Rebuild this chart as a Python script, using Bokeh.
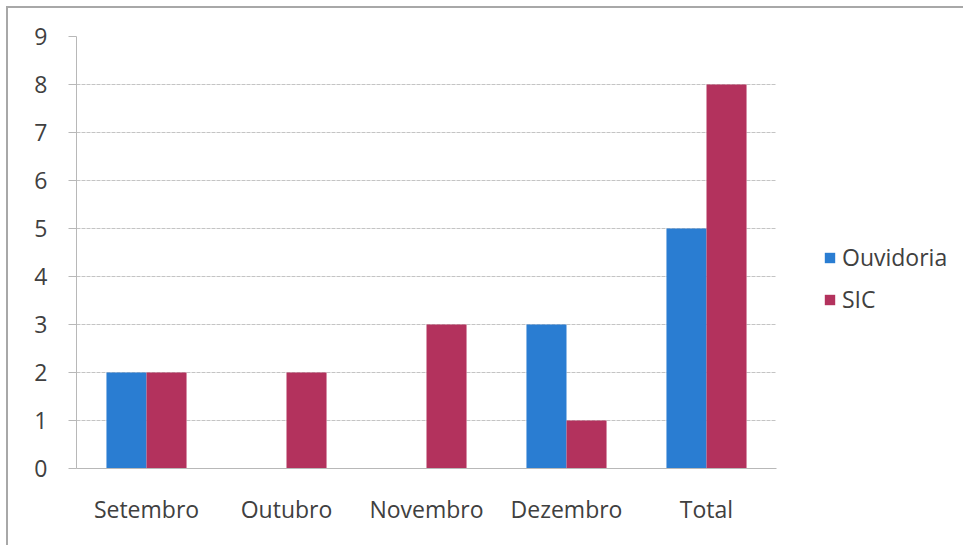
from bokeh.plotting import figure
from bokeh.models import ColumnDataSource, FactorRange, FixedTicker, Legend, LegendItem
from bokeh.transform import dodge
from bokeh.embed import file_html
from bokeh.resources import INLINE

categories = ["Setembro", "Outubro", "Novembro", "Dezembro", "Total"]
ouvidoria = [2, 0, 0, 3, 5]
sic = [2, 2, 3, 1, 8]
y_ticks = [0, 1, 2, 3, 4, 5, 6, 7, 8, 9]

BLUE = "#2a7dd2"
RED = "#b3325d"
FONT = "Open Sans"

src = ColumnDataSource(dict(cat=categories, ouv=ouvidoria, sic=sic))

p = figure(x_range=FactorRange(*categories), y_range=(0, 9),
           frame_width=700, frame_height=432, output_backend="svg", toolbar_location=None,
           min_border_left=68, min_border_top=28, min_border_bottom=77, min_border_right=185)
p.styles = {"border-left": "2px solid #a8a8a8", "border-top": "2px solid #a8a8a8",
            "margin-left": "6px", "margin-top": "6px"}
p.outline_line_color = None

r1 = p.vbar(x=dodge("cat", -0.143, range=p.x_range), top="ouv", width=0.286, source=src,
            fill_color=BLUE, line_color=None)
r2 = p.vbar(x=dodge("cat", 0.143, range=p.x_range), top="sic", width=0.286, source=src,
            fill_color=RED, line_color=None)

p.yaxis.ticker = FixedTicker(ticks=y_ticks)
p.yaxis.minor_tick_line_color = None
p.yaxis.major_tick_out = 8
p.yaxis.major_tick_in = 0
p.yaxis.major_tick_line_color = "#b8b8b8"
p.yaxis.axis_line_color = "#b8b8b8"
p.yaxis.major_label_standoff = 21

p.xaxis.major_tick_line_color = None
p.xaxis.axis_line_color = "#b8b8b8"
p.xaxis.major_label_standoff = 18

for ax in (p.xaxis, p.yaxis):
    ax.major_label_text_font = FONT
    ax.major_label_text_font_size = "23px"
    ax.major_label_text_color = "#404040"

p.xgrid.grid_line_color = None
p.ygrid.grid_line_color = "#c4c4c4"
p.ygrid.grid_line_dash = "4 1"

legend = Legend(items=[LegendItem(label="Ouvidoria", renderers=[r1]),
                       LegendItem(label="SIC", renderers=[r2])],
                location=(47, 153), padding=0, margin=0, spacing=10,
                glyph_width=13, glyph_height=13, label_height=23,
                label_standoff=6, border_line_color=None, background_fill_alpha=0,
                label_text_font=FONT, label_text_font_size="23px", label_text_color="#404040")
p.add_layout(legend, "right")

open("out.html", "w").write(file_html(p, INLINE))
